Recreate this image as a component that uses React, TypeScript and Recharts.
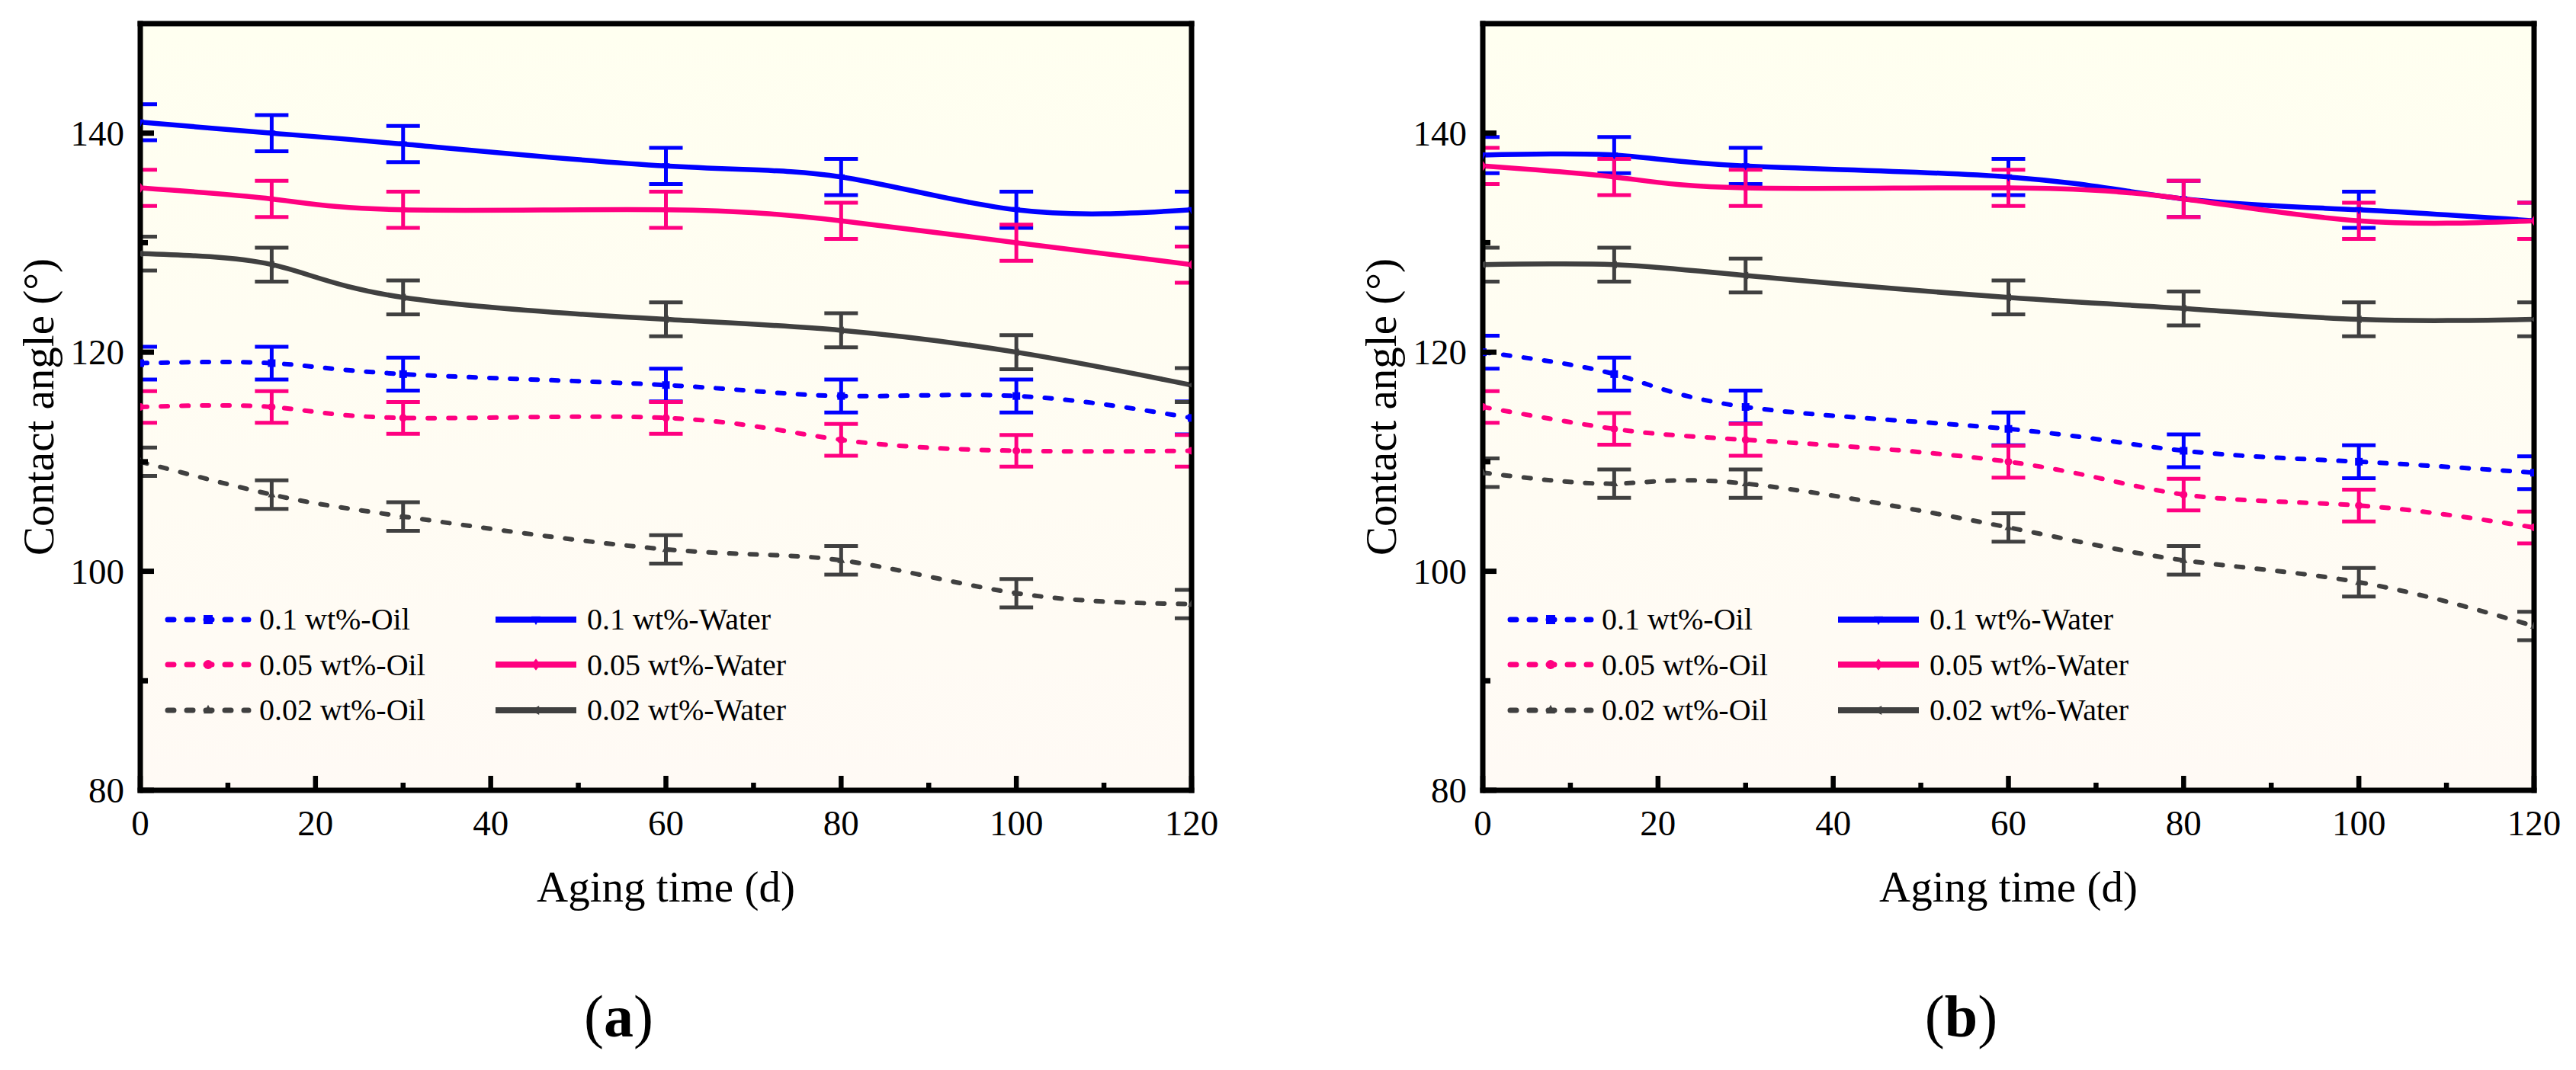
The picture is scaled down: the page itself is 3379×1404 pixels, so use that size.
import React from 'react';
import { CartesianGrid, ErrorBar, Legend, Line, LineChart, XAxis, YAxis } from 'recharts';

const FONT = "'Liberation Serif', 'Times New Roman', serif";
const BLUE = '#0000ff';
const PINK = '#ff0080';
const GRAY = '#404040';

// aging time (d)
const days = [0, 15, 30, 60, 80, 100, 120];
const xTicks = [0, 10, 20, 30, 40, 50, 60, 70, 80, 90, 100, 110, 120];
const yTicks = [80, 90, 100, 110, 120, 130, 140];

// panel (a) contact angle (deg)
const aOil01 = [119, 119, 118, 117, 116, 116, 114];
const aOil005 = [115, 115, 114, 114, 112, 111, 111];
const aOil002 = [110, 107, 105, 102, 101, 98, 97];
const aWater01 = [141, 140, 139, 137, 136, 133, 133];
const aWater005 = [135, 134, 133, 133, 132, 130, 128];
const aWater002 = [129, 128, 125, 123, 122, 120, 117];

// panel (b) contact angle (deg)
const bOil01 = [120, 118, 115, 113, 111, 110, 109];
const bOil005 = [115, 113, 112, 110, 107, 106, 104];
const bOil002 = [109, 108, 108, 104, 101, 99, 95];
const bWater01 = [138, 138, 137, 136, 134, 133, 132];
const bWater005 = [137, 136, 135, 135, 134, 132, 132];
const bWater002 = [128, 128, 127, 125, 124, 123, 123];

// error bars (+/-)
const errOil01 = [1.5, 1.5, 1.5, 1.5, 1.5, 1.5, 1.5];
const errOil005 = [1.45, 1.45, 1.45, 1.45, 1.45, 1.45, 1.45];
const errOil002 = [1.3, 1.3, 1.3, 1.3, 1.3, 1.3, 1.3];
const errWater01 = [1.65, 1.65, 1.65, 1.65, 1.65, 1.65, 1.65];
const errWater005 = [1.65, 1.65, 1.65, 1.65, 1.65, 1.65, 1.65];
const errWater002 = [1.55, 1.55, 1.55, 1.55, 1.55, 1.55, 1.55];

type Shape = 'square' | 'circle' | 'up' | 'down' | 'diamond' | 'left';

const series: { key: string; name: string; color: string; dashed: boolean; shape: Shape }[] = [
  { key: 'oil01', name: '0.1 wt%-Oil', color: BLUE, dashed: true, shape: 'square' },
  { key: 'oil005', name: '0.05 wt%-Oil', color: PINK, dashed: true, shape: 'circle' },
  { key: 'oil002', name: '0.02 wt%-Oil', color: GRAY, dashed: true, shape: 'up' },
  { key: 'water01', name: '0.1 wt%-Water', color: BLUE, dashed: false, shape: 'down' },
  { key: 'water005', name: '0.05 wt%-Water', color: PINK, dashed: false, shape: 'diamond' },
  { key: 'water002', name: '0.02 wt%-Water', color: GRAY, dashed: false, shape: 'left' },
];

const errs: Record<string, number[]> = {
  oil01: errOil01, oil005: errOil005, oil002: errOil002,
  water01: errWater01, water005: errWater005, water002: errWater002,
};

function buildRows(vals: Record<string, number[]>) {
  return days.map((t, i) => {
    const row: Record<string, number> = { t };
    series.forEach(s => {
      row[s.key] = vals[s.key][i];
      row[s.key + 'Err'] = errs[s.key][i];
    });
    return row;
  });
}

const dataA = buildRows({ oil01: aOil01, oil005: aOil005, oil002: aOil002, water01: aWater01, water005: aWater005, water002: aWater002 });
const dataB = buildRows({ oil01: bOil01, oil005: bOil005, oil002: bOil002, water01: bWater01, water005: bWater005, water002: bWater002 });

// chart frame
const W = 1761;
const H = 1404;
const M = { top: 30, right: 197, bottom: 366, left: 183 };

function Marker({ cx, cy, shape, color, r }: { cx: number; cy: number; shape: Shape; color: string; r: number }) {
  if (cx == null || cy == null) return null;
  switch (shape) {
    case 'square':
      return <rect x={cx - r} y={cy - r} width={2 * r} height={2 * r} fill={color} />;
    case 'circle':
      return <circle cx={cx} cy={cy} r={r} fill={color} />;
    case 'up':
      return <polygon points={`${cx},${cy - r * 1.2} ${cx + r},${cy + r * 0.7} ${cx - r},${cy + r * 0.7}`} fill={color} />;
    case 'down':
      return <polygon points={`${cx},${cy + r * 1.2} ${cx + r},${cy - r * 0.7} ${cx - r},${cy - r * 0.7}`} fill={color} />;
    case 'diamond':
      return <polygon points={`${cx},${cy - r * 1.3} ${cx + r},${cy} ${cx},${cy + r * 1.3} ${cx - r},${cy}`} fill={color} />;
    default:
      return <polygon points={`${cx - r * 1.2},${cy} ${cx + r * 0.7},${cy - r} ${cx + r * 0.7},${cy + r}`} fill={color} />;
  }
}

const XTick = (props: any) => {
  const { x, y, payload } = props;
  const v = payload.value;
  const major = v % 20 === 0;
  return (
    <g>
      <line x1={x} x2={x} y1={y} y2={y - (major ? 19 : 10)} stroke="#000" strokeWidth={6.5} />
      {major && (
        <text x={x} y={y + 59} textAnchor="middle" fontSize={47} fontFamily={FONT} fill="#000">{v}</text>
      )}
    </g>
  );
};

const YTick = (props: any) => {
  const { x, y, payload } = props;
  const v = payload.value;
  const major = (v - 80) % 20 === 0;
  return (
    <g>
      <line x1={x} x2={x + (major ? 18 : 10)} y1={y} y2={y} stroke="#000" strokeWidth={7} />
      {major && (
        <text x={x - 21} y={y + 16} textAnchor="end" fontSize={47} fontFamily={FONT} fill="#000">{v}</text>
      )}
    </g>
  );
};

function LegendBox() {
  const col = (items: typeof series) => (
    <div style={{ width: 430 }}>
      {items.map(s => (
        <div key={s.key} style={{ display: 'flex', alignItems: 'center', height: 59.5 }}>
          <svg width={112} height={30} style={{ overflow: 'visible' }}>
            <line x1={3} x2={109} y1={15} y2={15} stroke={s.color} strokeWidth={s.dashed ? 7 : 8}
              strokeDasharray={s.dashed ? '8 17' : undefined} strokeLinecap={s.dashed ? 'round' : 'butt'} />
            <Marker cx={56} cy={15} shape={s.shape} color={s.color} r={6} />
          </svg>
          <span style={{ marginLeft: 11, fontSize: 40, lineHeight: '59.5px', fontFamily: FONT, color: '#000', whiteSpace: 'nowrap' }}>{s.name}</span>
        </div>
      ))}
    </div>
  );
  return (
    <div style={{ display: 'flex' }}>
      {col(series.slice(0, 3))}
      {col(series.slice(3))}
    </div>
  );
}

const axisLine = { stroke: '#000', strokeWidth: 7, strokeLinecap: 'square' as const };

function Panel({ data, tag, gid }: { data: Record<string, number>[]; tag: string; gid: string }) {
  const plotX = M.left + 1;
  const plotY = M.top + 1;
  return (
    <LineChart width={W} height={H} data={data} margin={M}>
      <defs>
        <linearGradient id={gid} x1="0" y1="0" x2="0" y2="1">
          <stop offset="0%" stopColor="#fffff0" />
          <stop offset="100%" stopColor="#fffaf5" />
        </linearGradient>
        <clipPath id={gid + 'clip'}>
          <rect x={plotX} y={plotY} width={W - M.left - M.right - 2} height={H - M.top - M.bottom - 2} />
        </clipPath>
      </defs>
      <CartesianGrid horizontal={false} vertical={false} fill={`url(#${gid})`} fillOpacity={1} stroke="none" />
      {series.map(s => (
        <Line
          key={s.key}
          dataKey={s.key}
          name={s.name}
          type="natural"
          stroke={s.color}
          strokeWidth={s.dashed ? 6 : 6.5}
          strokeDasharray={s.dashed ? '9 18' : undefined}
          strokeLinecap={s.dashed ? 'round' : 'butt'}
          isAnimationActive={false}
          activeDot={false}
          dot={(p: any) => <Marker key={`${s.key}-${p.index}`} cx={p.cx} cy={p.cy} shape={s.shape} color={s.color} r={5} />}
        >
          <ErrorBar dataKey={s.key + 'Err'} direction="y" width={22} strokeWidth={5} stroke={s.color}
            clipPath={`url(#${gid}clip)`} />
        </Line>
      ))}
      <XAxis
        dataKey="t"
        type="number"
        domain={[0, 120]}
        ticks={xTicks}
        interval={0}
        allowDataOverflow
        height={1}
        tickSize={0}
        tickMargin={0}
        tickLine={false}
        tick={<XTick />}
        axisLine={axisLine}
        label={(p: any) => {
          const vb = p.viewBox || {};
          const cx = (vb.x ?? 184) + (vb.width ?? 1379) / 2;
          const y = vb.y ?? 1037;
          return (
            <g>
              <text x={cx} y={y + 146} textAnchor="middle" fontSize={57} fontFamily={FONT} fill="#000">Aging time (d)</text>
              <text x={cx - 62} y={y + 323} textAnchor="middle" fontSize={78} fontFamily={FONT} fill="#000">
                (<tspan fontWeight="bold">{tag}</tspan>)
              </text>
            </g>
          );
        }}
      />
      <XAxis xAxisId="top" orientation="top" type="number" domain={[0, 120]} height={1} tick={false} tickLine={false}
        axisLine={axisLine} />
      <YAxis
        type="number"
        domain={[80, 150]}
        ticks={yTicks}
        interval={0}
        width={1}
        tickSize={0}
        tickMargin={0}
        tickLine={false}
        tick={<YTick />}
        axisLine={axisLine}
        label={(p: any) => {
          const vb = p.viewBox || {};
          const x = (vb.x ?? 183) + (vb.width ?? 1) - 114;
          const cy = (vb.y ?? 31) + (vb.height ?? 1006) / 2;
          return (
            <text x={x} y={cy} transform={`rotate(-90, ${x}, ${cy})`} textAnchor="middle" fontSize={57} fontFamily={FONT} fill="#000">
              Contact angle (°)
            </text>
          );
        }}
      />
      <YAxis yAxisId="right" orientation="right" type="number" domain={[80, 150]} width={1} tick={false} tickLine={false}
        axisLine={axisLine} />
      <Legend
        layout="vertical"
        align="center"
        verticalAlign="middle"
        content={() => <LegendBox />}
        wrapperStyle={{ left: 217, top: 783, width: 900, height: 180 }}
      />
    </LineChart>
  );
}

export default function App() {
  return (
    <div style={{ position: 'absolute', left: 0, top: 0, width: 3379, height: 1404, background: '#fff', overflow: 'hidden' }}>
      <div style={{ position: 'absolute', left: 0, top: 0 }}>
        <Panel data={dataA} tag="a" gid="bgA" />
      </div>
      <div style={{ position: 'absolute', left: 1761, top: 0 }}>
        <Panel data={dataB} tag="b" gid="bgB" />
      </div>
    </div>
  );
}
